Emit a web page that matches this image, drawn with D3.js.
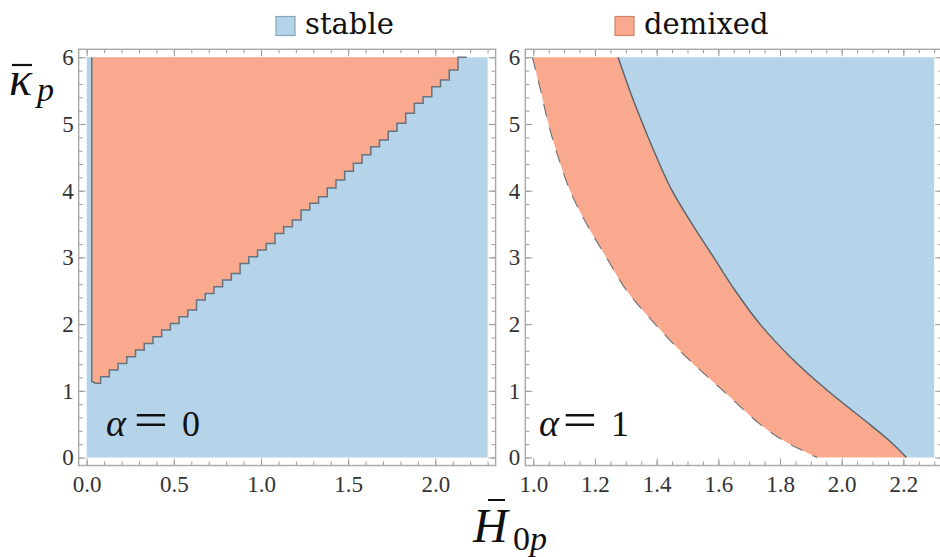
<!DOCTYPE html>
<html>
<head>
<meta charset="utf-8">
<script src="https://cdn.jsdelivr.net/npm/d3@7"></script>
<style>
  body { margin: 0; background: #fff; }
  svg { display: block; }
</style>
</head>
<body>
<div id="chart"></div>
<script>
// alpha = 0 panel: staircase boundary of the demixed region (H, kappa at top of each step)
const stepH0 = [0.08, 0.13, 0.18, 0.23, 0.28, 0.33, 0.38, 0.43, 0.48, 0.53, 0.58, 0.63, 0.68, 0.73,
  0.78, 0.83, 0.88, 0.93, 0.98, 1.03, 1.08, 1.13, 1.18, 1.23, 1.28, 1.33, 1.38, 1.43, 1.48, 1.53,
  1.58, 1.63, 1.68, 1.73, 1.78, 1.83, 1.88, 1.93, 1.98, 2.03, 2.08, 2.13]
const stepK0 = [1.21, 1.31, 1.41, 1.51, 1.61, 1.71, 1.81, 1.91, 2.01, 2.11, 2.21, 2.36, 2.46, 2.56,
  2.66, 2.76, 2.91, 3.01, 3.11, 3.21, 3.36, 3.46, 3.56, 3.71, 3.81, 3.91, 4.04, 4.16, 4.29, 4.41,
  4.54, 4.66, 4.76, 4.89, 5.01, 5.16, 5.31, 5.41, 5.56, 5.66, 5.81, 6.0]
const edgeH0 = 0.029        // left wall of the demixed region
const bottomH0 = [0.029, 0.05]
const bottomK0 = [1.14, 1.115]
const topEndH0 = 2.18

// alpha = 1 panel: left (white/demixed) and right (demixed/stable) boundaries
const kappa1 = [6, 5.5, 5, 4.5, 4, 3.5, 3, 2.5, 2, 1.5, 1, 0.5, 0.25, 0]
const lowerH1 = [0.997, 1.024, 1.049, 1.081, 1.119, 1.173, 1.237, 1.303, 1.395, 1.497, 1.616, 1.735, 1.813, 1.92]
const upperH1 = [1.275, 1.313, 1.355, 1.40, 1.45, 1.515, 1.585, 1.655, 1.735, 1.835, 1.955, 2.09, 2.155, 2.21]

// plot ranges and ticks
const hRange0 = [0, 2.3]
const hRange1 = [1.0, 2.3]
const kRange = [0, 6]
const xTicks0 = [0, 0.5, 1.0, 1.5, 2.0]
const xTicks1 = [1.0, 1.2, 1.4, 1.6, 1.8, 2.0, 2.2]
const yTicks = [0, 1, 2, 3, 4, 5, 6]

const legendLabels = ['stable', 'demixed']
const blue = '#b6d4e9'
const orange = '#f9aa8e'
const serif = "'Liberation Serif'"
const wideSerif = "'DejaVu Serif'"

const svg = d3.select('#chart').append('svg')
  .attr('width', 940)
  .attr('height', 557)

const y = d3.scaleLinear().domain(kRange).range([457.5, 57.3])
const x0 = d3.scaleLinear().domain(hRange0).range([86.7, 487.6])
const x1 = d3.scaleLinear().domain(hRange1).range([533.3, 934.2])

function label (g, x, yy, size, str, family) {
  return g.append('text')
    .attr('x', x).attr('y', yy)
    .attr('font-size', size)
    .attr('fill', '#111')
    .style('font-family', family || serif)
    .text(str)
}

// Mathematica-style frame with inward ticks on all four sides
function drawFrame (x, padX, xTicks, xMinor, fmt) {
  const g = svg.append('g')
  const dx = x.domain()
  const left = x(dx[0] - padX[0])
  const right = x(dx[1] + padX[1])
  const top = y(6.12)
  const bottom = y(-0.12)
  const yMinor = d3.range(0, 6.01, 0.2)

  const styleAxis = function (sel) {
    sel.select('.domain').remove()
    sel.selectAll('line').attr('stroke', '#9a9a9a')
    sel.selectAll('text')
      .attr('fill', '#333')
      .attr('font-size', 23)
      .style('font-family', serif)
  }

  g.append('g').attr('transform', 'translate(0,' + bottom + ')')
    .call(d3.axisBottom(x).tickValues(xMinor).tickSize(-4).tickFormat(''))
    .call(styleAxis)
  g.append('g').attr('transform', 'translate(0,' + bottom + ')')
    .call(d3.axisBottom(x).tickValues(xTicks).tickSize(-7).tickPadding(10).tickFormat(fmt))
    .call(styleAxis)
  g.append('g').attr('transform', 'translate(0,' + top + ')')
    .call(d3.axisTop(x).tickValues(xMinor).tickSize(-4).tickFormat(''))
    .call(styleAxis)
  g.append('g').attr('transform', 'translate(0,' + top + ')')
    .call(d3.axisTop(x).tickValues(xTicks).tickSize(-7).tickFormat(''))
    .call(styleAxis)

  g.append('g').attr('transform', 'translate(' + left + ',0)')
    .call(d3.axisLeft(y).tickValues(yMinor).tickSize(-4).tickFormat(''))
    .call(styleAxis)
  g.append('g').attr('transform', 'translate(' + left + ',0)')
    .call(d3.axisLeft(y).tickValues(yTicks).tickSize(-7).tickPadding(5).tickFormat(d3.format('d')))
    .call(styleAxis)
  g.append('g').attr('transform', 'translate(' + right + ',0)')
    .call(d3.axisRight(y).tickValues(yMinor).tickSize(-4).tickFormat(''))
    .call(styleAxis)
  g.append('g').attr('transform', 'translate(' + right + ',0)')
    .call(d3.axisRight(y).tickValues(yTicks).tickSize(-7).tickFormat(''))
    .call(styleAxis)

  g.append('rect')
    .attr('x', left).attr('y', top)
    .attr('width', right - left).attr('height', bottom - top)
    .attr('fill', 'none')
    .attr('stroke', '#a8a8a8')
    .attr('stroke-width', 1.4)
}

// ---- left panel (alpha = 0)
const p0 = svg.append('g')
p0.append('rect')
  .attr('x', x0(hRange0[0])).attr('y', y(kRange[1]))
  .attr('width', x0(hRange0[1]) - x0(hRange0[0]))
  .attr('height', y(kRange[0]) - y(kRange[1]))
  .attr('fill', blue)

// outline of the demixed region: wall, rounded foot, then the staircase
const pts0 = [[edgeH0, kRange[1]]]
bottomH0.forEach((h, i) => pts0.push([h, bottomK0[i]]))
let prevK = bottomK0[bottomK0.length - 1]
stepH0.forEach((h, i) => {
  pts0.push([h, prevK])
  pts0.push([h, stepK0[i]])
  prevK = stepK0[i]
})
pts0.push([topEndH0, prevK])

const line0 = d3.line().x(d => x0(d[0])).y(d => y(d[1]))
p0.append('path')
  .attr('d', line0(pts0) + 'Z')
  .attr('fill', orange)
p0.append('path')
  .attr('d', line0(pts0))
  .attr('fill', 'none')
  .attr('stroke', '#66737e')
  .attr('stroke-width', 1.5)

drawFrame(x0, [0.046, 0.046], xTicks0, d3.range(0, 2.31, 0.1), d3.format('.1f'))

// ---- right panel (alpha = 1)
const p1 = svg.append('g')
const rows1 = kappa1.map((k, i) => ({ k: k, lo: lowerH1[i], hi: upperH1[i] }))
const curve = d3.curveCatmullRom.alpha(0.5)

p1.append('path')
  .attr('d', d3.area().curve(curve)
    .y(d => y(d.k)).x0(d => x1(d.hi)).x1(x1(hRange1[1]))(rows1))
  .attr('fill', blue)
p1.append('path')
  .attr('d', d3.area().curve(curve)
    .y(d => y(d.k)).x0(d => x1(d.lo)).x1(d => x1(d.hi))(rows1))
  .attr('fill', orange)
p1.append('path')
  .attr('d', d3.line().curve(curve).x(d => x1(d.hi)).y(d => y(d.k))(rows1))
  .attr('fill', 'none')
  .attr('stroke', '#56626c')
  .attr('stroke-width', 1.4)
p1.append('path')
  .attr('d', d3.line().curve(curve).x(d => x1(d.lo)).y(d => y(d.k))(rows1))
  .attr('fill', 'none')
  .attr('stroke', '#707070')
  .attr('stroke-width', 1.1)
  .attr('stroke-dasharray', '13,11')

drawFrame(x1, [0.026, 0.026], xTicks1, d3.range(1.0, 2.31, 0.05), d3.format('.1f'))

// ---- panel annotations
function alphaLabel (ax, eqx, numx, num) {
  const g = svg.append('g')
  label(g, ax, 436, 38, 'α').attr('font-style', 'italic')
  // stretched so the bars are as wide as the TeX equals sign
  label(g, 0, 0, 38, '=')
    .attr('transform', 'translate(' + eqx + ',436) scale(1.6,1.3)')
    .attr('text-anchor', 'middle')
  label(g, numx, 436, 36, num).attr('text-anchor', 'middle')
}
alphaLabel(106, 151, 191, '0')
alphaLabel(539, 580, 620, '1')

// ---- legend
const legend = svg.append('g')
const legendX = [276, 615]
const legendStroke = ['#86a6bf', '#cf836a']
legendLabels.forEach((name, i) => {
  legend.append('rect')
    .attr('x', legendX[i]).attr('y', 16.5)
    .attr('width', 19).attr('height', 19)
    .attr('fill', i === 0 ? blue : orange)
    .attr('stroke', legendStroke[i])
    .attr('stroke-width', 1.2)
  label(legend, legendX[i] + 29, 34, 29, name, wideSerif)
})

// ---- axis titles
const titles = svg.append('g')
label(titles, 9, 95, 48, 'κ').attr('font-style', 'italic')
titles.append('line').attr('x1', 12).attr('x2', 32).attr('y1', 65).attr('y2', 65)
  .attr('stroke', '#111').attr('stroke-width', 2.2)
label(titles, 37, 101, 34, 'p').attr('font-style', 'italic')

label(titles, 473, 541.5, 48, 'H').attr('font-style', 'italic')
titles.append('line').attr('x1', 488).attr('x2', 505).attr('y1', 500).attr('y2', 500)
  .attr('stroke', '#111').attr('stroke-width', 2)
const sub = label(titles, 513, 550, 34, '0')
sub.append('tspan').attr('font-style', 'italic').text('p')
</script>
</body>
</html>
